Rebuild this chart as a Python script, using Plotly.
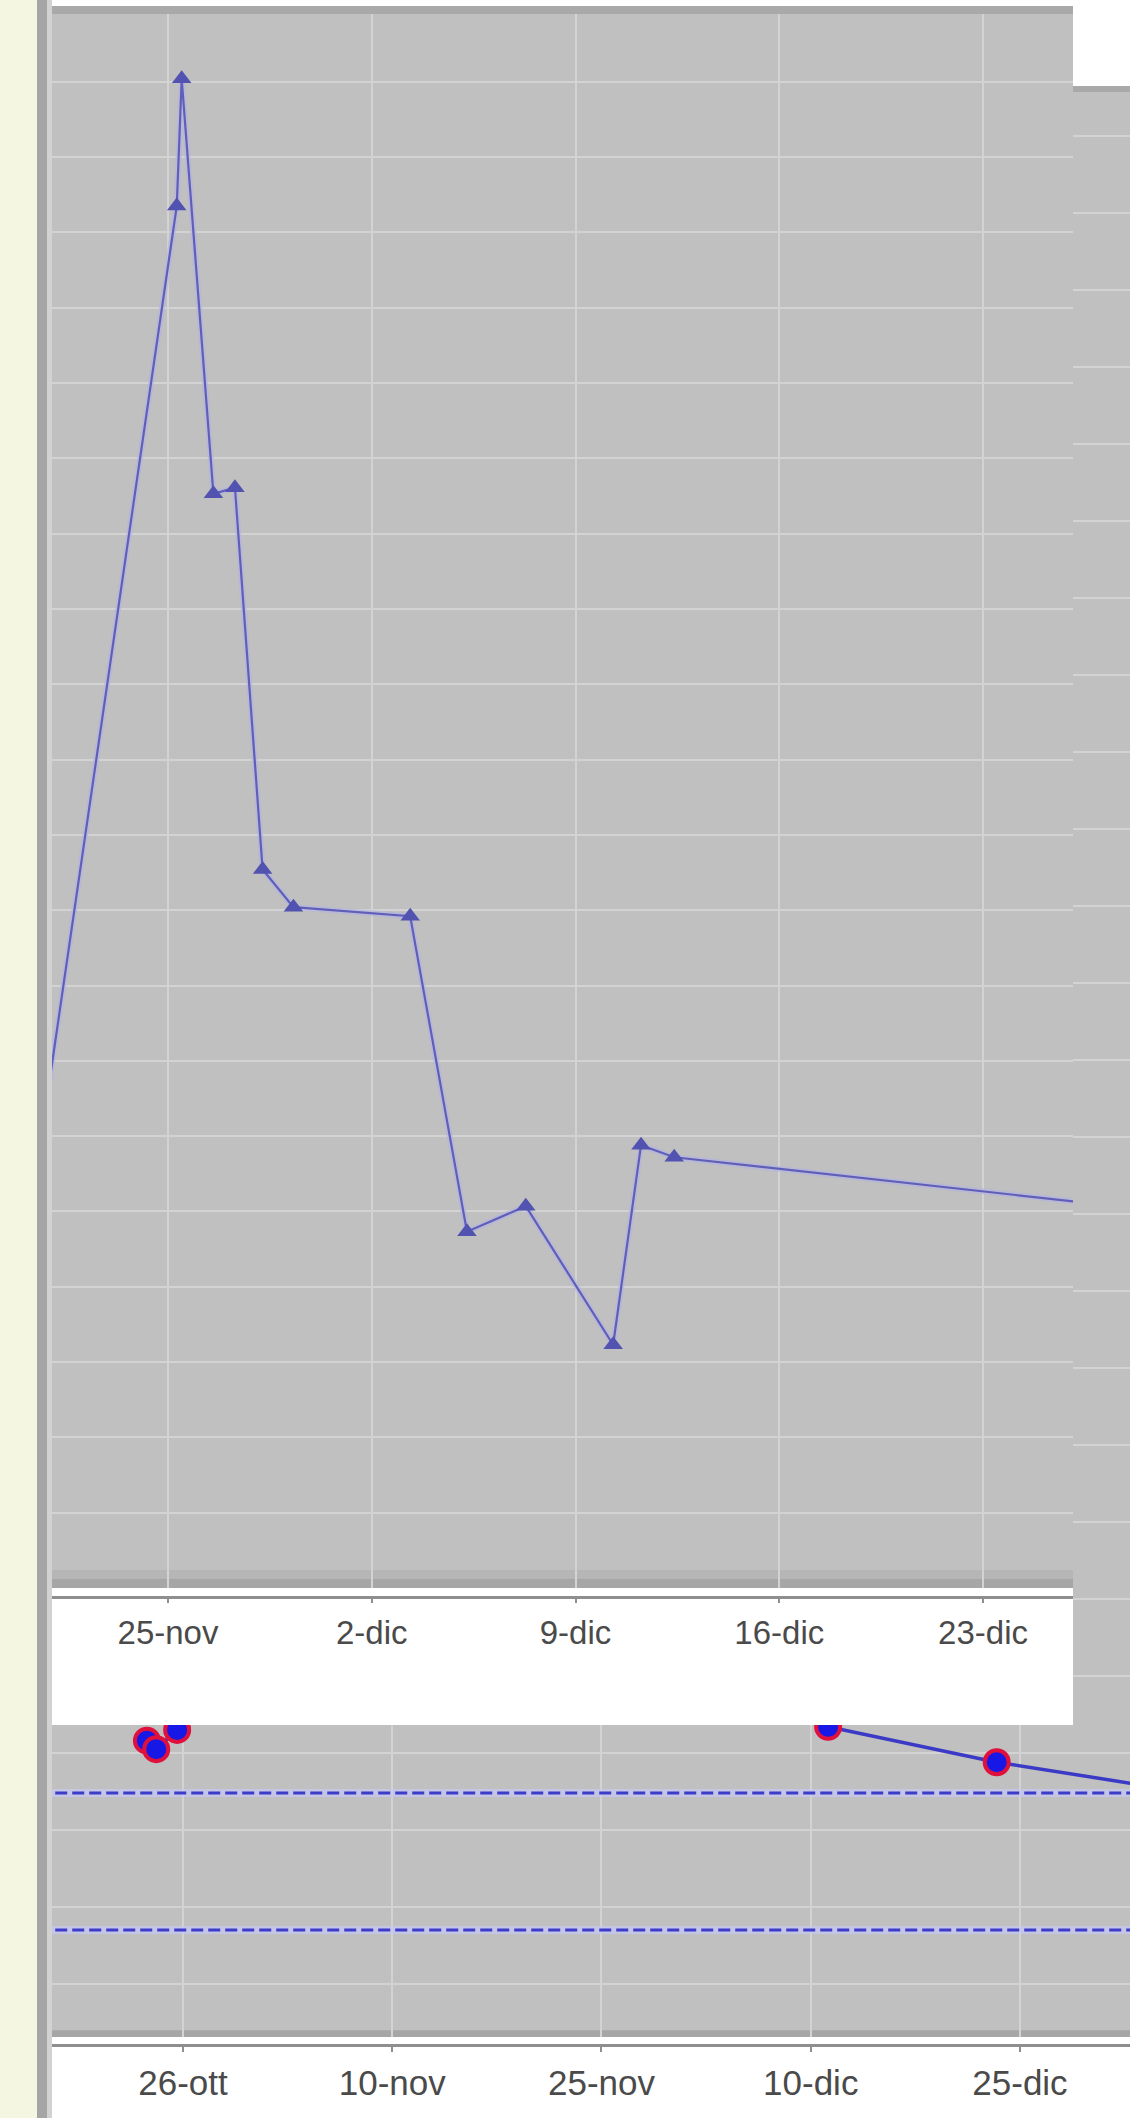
import plotly.graph_objects as go

W, H = 1130, 2118

# ---------------- data ----------------
# upper (front) chart
top_dates = ["2012-11-20 12:00", "2012-11-25 07:12", "2012-11-25 11:17", "2012-11-26 13:26",
             "2012-11-27 07:12", "2012-11-28 06:00", "2012-11-29 07:26", "2012-12-03 07:41",
             "2012-12-05 06:29", "2012-12-07 07:00", "2012-12-10 07:00", "2012-12-11 06:00",
             "2012-12-12 09:22", "2012-12-29 00:00"]
top_values = [5.59, 18.35, 20.04, 14.53, 14.61, 9.54, 9.04, 8.92, 4.73, 5.07, 3.23, 5.88, 5.72, 5.01]
top_tickvals = ["2012-11-25", "2012-12-02", "2012-12-09", "2012-12-16", "2012-12-23"]
top_ticktext = ["25-nov", "2-dic", "9-dic", "16-dic", "23-dic"]

# lower (back) chart
bot_dates = ["2012-10-23 10:00", "2012-10-24 02:00", "2012-10-25 14:00", "2012-10-28 00:00",
             "2012-12-09 00:00", "2012-12-11 06:00", "2012-12-23 08:00", "2013-01-05 00:00"]
bot_values = [4.16, 4.05, 4.30, 6.5, 6.0, 4.34, 3.88, 3.52]
limit_dates = ["2012-10-01", "2013-01-31"]
limit_upper = 3.48
limit_lower = 1.70
bot_tickvals = ["2012-10-26", "2012-11-10", "2012-11-25", "2012-12-10", "2012-12-25"]
bot_ticktext = ["26-ott", "10-nov", "25-nov", "10-dic", "25-dic"]


def xf(px):
    return px / W


def yf(py):
    return 1 - py / H


fig = go.Figure()

# ---- lower chart (xy) ----
for lim in (limit_upper, limit_lower):
    fig.add_trace(go.Scatter(x=limit_dates, y=[lim, lim], mode="lines",
                             line=dict(color="rgba(200,200,245,0.7)", width=8),
                             hoverinfo="skip", showlegend=False, xaxis="x", yaxis="y"))
    fig.add_trace(go.Scatter(x=limit_dates, y=[lim, lim], mode="lines",
                             line=dict(color="#3c3cc8", width=3, dash="12px,5px"),
                             hoverinfo="skip", showlegend=False, xaxis="x", yaxis="y"))
fig.add_trace(go.Scatter(x=bot_dates, y=bot_values, mode="lines+markers",
                         line=dict(color="#3a3ac6", width=3.5),
                         marker=dict(symbol="circle", size=24, color="#1818e6",
                                     line=dict(color="#e0103c", width=4)),
                         showlegend=False, xaxis="x", yaxis="y"))

# ---- white label panel of the front chart (x2y2) ----
fig.add_trace(go.Scatter(x=[0.5], y=[0.5], mode="markers", marker=dict(opacity=0),
                         hoverinfo="skip", showlegend=False, xaxis="x2", yaxis="y2"))

# ---- front chart (x3y3) ----
fig.add_trace(go.Scatter(x=top_dates, y=top_values, mode="lines",
                         line=dict(color="rgba(178,178,228,0.6)", width=6),
                         hoverinfo="skip", showlegend=False, xaxis="x3", yaxis="y3"))
fig.add_trace(go.Scatter(x=top_dates, y=top_values, mode="lines+markers",
                         line=dict(color="#5f5fba", width=2.2),
                         marker=dict(symbol="triangle-up", size=17, color="#5252b0"),
                         showlegend=False, xaxis="x3", yaxis="y3"))

shapes = [
    # left cream strip and grey frame bar
    dict(type="rect", xref="paper", yref="paper", x0=0, x1=xf(37), y0=0, y1=1,
         fillcolor="#f5f6e2", line=dict(width=0), layer="below"),
    dict(type="rect", xref="paper", yref="paper", x0=xf(37), x1=xf(47), y0=0, y1=1,
         fillcolor="#a5a5a5", line=dict(width=0), layer="below"),
    dict(type="rect", xref="paper", yref="paper", x0=xf(47), x1=xf(52), y0=0, y1=1,
         fillcolor="#d2d2d2", line=dict(width=0), layer="below"),
    # top frame of front chart
    dict(type="rect", xref="paper", yref="paper", x0=xf(52), x1=xf(1073), y0=yf(14), y1=yf(6),
         fillcolor="#a9a9a9", line=dict(width=0), layer="below"),
    # top frame of back chart (visible right of the front chart)
    dict(type="rect", xref="paper", yref="paper", x0=xf(1073), x1=1, y0=yf(92), y1=yf(86),
         fillcolor="#a9a9a9", line=dict(width=0), layer="below"),
    # white panel
    dict(type="rect", xref="x2", yref="y2", x0=-1, x1=2, y0=-1, y1=2,
         fillcolor="#ffffff", line=dict(width=0), layer="below"),
    # darker bands at plot bottoms
    dict(type="rect", xref="x3", yref="y3", x0="2012-11-01", x1="2013-01-31", y0=-1, y1=0.12,
         fillcolor="#a6a6a6", line=dict(width=0), layer="below"),
    dict(type="rect", xref="x3", yref="y3", x0="2012-11-01", x1="2013-01-31", y0=0.12, y1=0.24,
         fillcolor="#b6b6b6", line=dict(width=0), layer="below"),
    dict(type="rect", xref="x", yref="y", x0="2012-10-01", x1="2013-01-31", y0=-1, y1=0.40,
         fillcolor="#a6a6a6", line=dict(width=0), layer="below"),
]

grid = "#d3d3d3"
font_family = "Liberation Sans, Arial, sans-serif"

fig.update_layout(
    width=W, height=H,
    margin=dict(l=0, r=0, t=0, b=0),
    paper_bgcolor="#ffffff",
    plot_bgcolor="#c0c0c0",
    showlegend=False,
    shapes=shapes,
    xaxis=dict(domain=[xf(52), 1], range=["2012-10-16 14:40", "2013-01-01 21:20"], type="date",
               anchor="free", position=yf(2045),
               showline=True, linecolor="#8e8e8e", linewidth=3,
               ticks="outside", ticklen=5, tickwidth=2, tickcolor="#8e8e8e",
               tickvals=bot_tickvals, ticktext=bot_ticktext,
               tickfont=dict(family=font_family, size=35, color="#4a4a4a"),
               ticklabelstandoff=1,
               showgrid=True, gridcolor=grid, gridwidth=2, zeroline=False),
    yaxis=dict(domain=[yf(2037), yf(92)], range=[0.312, 25.57], anchor="x",
               showticklabels=False, ticks="", dtick=1, tick0=0,
               showgrid=True, gridcolor=grid, gridwidth=2, zeroline=False, showline=False),
    xaxis2=dict(domain=[xf(52), xf(1073)], range=[0, 1], visible=False, anchor="y2"),
    yaxis2=dict(domain=[yf(1725), yf(1588)], range=[0, 1], visible=False, anchor="x2"),
    xaxis3=dict(domain=[xf(52), xf(1073)], range=["2012-11-21 00:21", "2012-12-26 02:10"], type="date",
                anchor="free", position=yf(1597),
                showline=True, linecolor="#8e8e8e", linewidth=3,
                ticks="outside", ticklen=4, tickwidth=2, tickcolor="#8e8e8e",
                tickvals=top_tickvals, ticktext=top_ticktext,
                tickfont=dict(family=font_family, size=33, color="#4a4a4a"),
                ticklabelstandoff=1,
                showgrid=True, gridcolor=grid, gridwidth=2, zeroline=False),
    yaxis3=dict(domain=[yf(1588), yf(14)], range=[0, 20.9], anchor="x3",
                showticklabels=False, ticks="", dtick=1, tick0=0,
                showgrid=True, gridcolor=grid, gridwidth=2, zeroline=False, showline=False),
)

fig.write_html("out.html", config={"displayModeBar": False},
               post_script="document.body.style.margin='0px';document.body.style.overflow='hidden';")
